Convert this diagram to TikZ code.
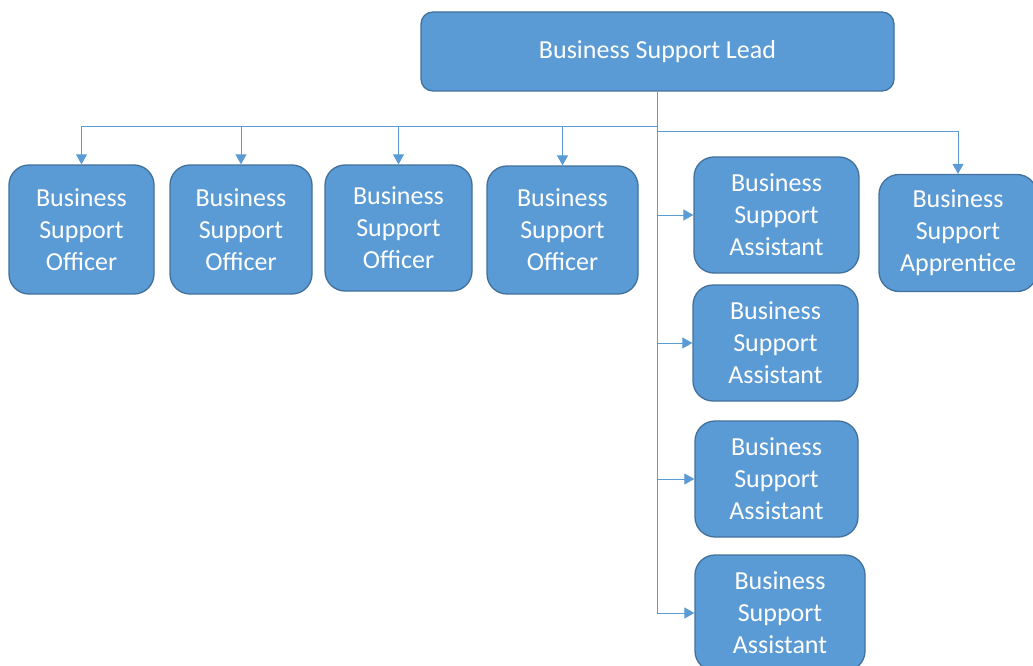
\documentclass[tikz,border=0pt]{standalone}
\usepackage{fontspec}
\setmainfont{Carlito}
\usetikzlibrary{arrows.meta, positioning}

\definecolor{boxblue}{HTML}{5B9BD5}
\definecolor{boxedge}{HTML}{41719C}
\definecolor{linkblue}{HTML}{5B9BD5}

\begin{document}
\begin{tikzpicture}[
    x=1pt, y=-1pt,
    % Define box styles
    role/.style={
        rectangle,
        rounded corners=20pt,
        draw=boxedge,
        fill=boxblue,
        line width=1.3pt,
        text=white,
        align=center,
        inner sep=0pt,
        font=\fontsize{26}{32}\selectfont
    },
    link/.style={
        draw=linkblue,
        line width=1pt,
        -{Triangle[length=10pt, width=11pt]}
    }
]
    \clip (0, 0) rectangle (1033, 666);
    \fill[white] (0, 0) rectangle (1033, 666);

    % =================================================================
    % --- Lead ---
    % =================================================================
    \node[role, rounded corners=12pt, minimum width=473, minimum height=79] (lead) at (657.5, 51.5) {Business Support Lead};

    % =================================================================
    % --- Officers ---
    % =================================================================
    \node[role, minimum width=145, minimum height=129] (off1) at (81.5, 229.5) {Business\\Support\\Officer};
    \node[role, minimum width=142, minimum height=129] (off2) at (241, 229.5) {Business\\Support\\Officer};
    \node[role, minimum width=147, minimum height=126] (off3) at (398.5, 228) {Business\\Support\\Officer};
    \node[role, minimum width=151, minimum height=128] (off4) at (562.5, 230) {Business\\Support\\Officer};

    % =================================================================
    % --- Assistants and Apprentice ---
    % =================================================================
    \node[role, minimum width=165, minimum height=116] (asst1) at (776.5, 215) {Business\\Support\\Assistant};
    \node[role, minimum width=165, minimum height=116] (asst2) at (775.5, 343) {Business\\Support\\Assistant};
    \node[role, minimum width=163, minimum height=116] (asst3) at (776.5, 479) {Business\\Support\\Assistant};
    \node[role, minimum width=170, minimum height=116] (asst4) at (780, 613) {Business\\Support\\Assistant};
    \node[role, minimum width=158, minimum height=117] (appr) at (958, 233) {Business\\Support\\Apprentice};

    % Split points below the lead
    \coordinate (split) at (657.5, 127);
    \coordinate (splitR) at (657.5, 132);

    \draw[draw=linkblue, line width=1pt] (lead.south) -- (split);
    \foreach \n in {off1, off2, off3, off4} {
        \draw[link] (split) -| (\n.north);
    }
    \foreach \n in {asst1, asst2, asst3, asst4} {
        \draw[link] (split) |- (\n.west);
    }
    \draw[link] (splitR) -| (appr.north);
\end{tikzpicture}
\end{document}
